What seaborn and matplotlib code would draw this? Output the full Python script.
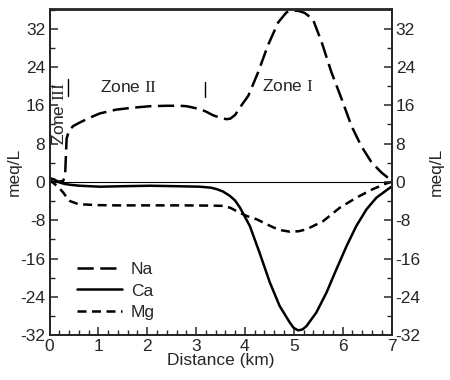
import numpy as np
import pandas as pd
import matplotlib
matplotlib.use("Agg")
import matplotlib.pyplot as plt
import seaborn as sns

# ---- data ----
na_x = [0.0, 0.15, 0.28, 0.32, 0.35, 0.40, 0.49, 0.62, 0.80, 1.03, 1.37, 1.71, 2.05, 2.40, 2.67, 2.81,
        3.08, 3.20, 3.35, 3.50, 3.62, 3.70, 3.80, 3.93, 4.07, 4.27, 4.47, 4.68, 4.85, 4.99, 5.10,
        5.22, 5.39, 5.57, 5.77, 5.98, 6.18, 6.38, 6.59, 6.79, 6.96, 7.0]
na_y = [0.0, 0.0, 0.2, 1.5, 9.0, 10.8, 11.7, 12.4, 13.3, 14.3, 15.1, 15.5, 15.8, 15.9, 15.9, 15.8,
        15.2, 14.7, 13.9, 13.4, 13.1, 13.2, 14.0, 16.0, 18.0, 22.9, 28.5, 33.3, 35.4, 35.8, 35.7,
        35.3, 34.0, 29.2, 22.9, 17.3, 11.7, 7.5, 4.1, 2.0, 0.6, 0.4]

ca_x = [0.0, 0.10, 0.20, 0.30, 0.42, 0.62, 1.03, 1.50, 2.06, 2.60, 3.08, 3.30, 3.42, 3.55, 3.69,
        3.80, 3.90, 4.10, 4.30, 4.51, 4.71, 4.92, 5.00, 5.09, 5.18, 5.26, 5.46, 5.67, 5.87, 6.08,
        6.28, 6.49, 6.69, 6.85, 6.93, 7.0]
ca_y = [0.8, 0.5, -0.1, -0.4, -0.6, -0.8, -1.0, -0.9, -0.8, -0.9, -1.0, -1.2, -1.5, -2.0, -2.9,
        -3.9, -5.4, -9.2, -14.8, -21.0, -25.9, -29.4, -30.5, -31.0, -30.8, -30.1, -27.3, -23.1,
        -18.3, -13.4, -9.2, -5.7, -3.3, -2.1, -1.5, -1.0]

mg_x = [0.0, 0.10, 0.20, 0.28, 0.35, 0.42, 0.55, 0.69, 1.00, 1.37, 2.00, 2.74, 3.30, 3.55, 3.70,
        3.83, 4.03, 4.24, 4.58, 4.75, 4.92, 5.10, 5.26, 5.60, 5.94, 6.28, 6.62, 6.90, 7.0]
mg_y = [0.5, -0.4, -1.3, -2.2, -3.2, -4.0, -4.5, -4.7, -4.85, -4.9, -4.9, -4.9, -4.95, -5.0, -5.4,
        -6.1, -7.1, -7.8, -9.5, -10.1, -10.4, -10.3, -9.9, -8.2, -5.4, -3.3, -1.5, -0.3, 0.0]

series_names = ["Na", "Ca", "Mg"]
x_ticks = [0, 1, 2, 3, 4, 5, 6, 7]
y_ticks = [-32, -24, -16, -8, 0, 8, 16, 24, 32]

# ---- style ----
sns.set_style("ticks")
plt.rcParams["font.family"] = ["Liberation Sans", "DejaVu Sans"]
plt.rcParams["mathtext.fontset"] = "custom"
plt.rcParams["mathtext.rm"] = "Liberation Serif"
FS = 12.5

fig = plt.figure(figsize=(4.5, 3.8), dpi=100)
ax = fig.add_axes([0.110, 0.118, 0.760, 0.857])

dash_styles = {"Na": (6.5, 2.6), "Ca": None, "Mg": (3.6, 2.2)}
data = {"Na": (na_x, na_y), "Ca": (ca_x, ca_y), "Mg": (mg_x, mg_y)}
for name in series_names:
    xs, ys = data[name]
    df = pd.DataFrame({"x": xs, "y": ys})
    sns.lineplot(data=df, x="x", y="y", color="black", lw=1.8, ax=ax, sort=False,
                 estimator=None, label=name, legend=False)
    ln = ax.lines[-1]
    if dash_styles[name] is not None:
        ln.set_dashes(dash_styles[name])
        ln.set_dash_capstyle("butt")

ax.axhline(0, color="black", lw=0.8, zorder=1)

ax.set_xlim(0, 7)
ax.set_ylim(-32, 36)
ax.set_xticks(x_ticks)
ax.set_xticklabels([str(t) for t in x_ticks])
ax.set_yticks(y_ticks)
ax.set_yticklabels([str(t) for t in y_ticks])
ax.xaxis.set_minor_locator(matplotlib.ticker.MultipleLocator(0.2))
ax.yaxis.set_minor_locator(matplotlib.ticker.MultipleLocator(4))
ax.tick_params(which="major", direction="in", length=6, width=1.1, labelsize=FS, pad=3,
               top=False, right=False)
ax.tick_params(which="minor", direction="in", length=3.5, width=1.0, top=False, right=False)
ax.set_xlabel("Distance (km)", fontsize=FS, labelpad=-1)
ax.set_ylabel("meq/L", fontsize=FS, labelpad=-1.5)
for s in ax.spines.values():
    s.set_linewidth(1.3)
    s.set_visible(True)

ax2 = ax.twinx()
ax2.set_ylim(-32, 36)
ax2.set_yticks(y_ticks)
ax2.set_yticklabels([str(t) for t in y_ticks])
ax2.yaxis.set_minor_locator(matplotlib.ticker.MultipleLocator(4))
ax2.tick_params(which="major", direction="in", length=6, width=1.1, labelsize=FS, pad=3)
ax2.tick_params(which="minor", direction="in", length=3.5, width=1.0)
ax2.set_ylabel("meq/L", fontsize=FS, rotation=90, labelpad=6)
for s in ax2.spines.values():
    s.set_linewidth(1.3)

# zone annotations
ax.text(1.03, 19.8, r"Zone $\mathrm{II}$", fontsize=FS, ha="left", va="center")
ax.text(4.34, 20.0, r"Zone $\mathrm{I}$", fontsize=FS, ha="left", va="center")
ax.text(0.20, 7.8, r"Zone $\mathrm{III}$", fontsize=FS, ha="center", va="bottom", rotation=90)
ax.plot([0.38, 0.38], [18.0, 21.5], color="black", lw=1.0)
ax.plot([3.18, 3.18], [17.7, 20.8], color="black", lw=1.0)

leg = ax.legend(loc="lower left", bbox_to_anchor=(0.045, 0.01), frameon=False, fontsize=FS,
                handlelength=2.6, handletextpad=0.5, labelspacing=0.35, borderaxespad=0.3)

fig.savefig("out.png", dpi=100)
